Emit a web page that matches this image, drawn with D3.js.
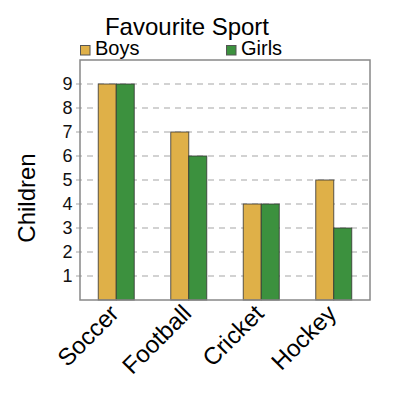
<!DOCTYPE html>
<html><head><meta charset="utf-8">
<script src="https://cdn.jsdelivr.net/npm/d3@7"></script>
<style>body{margin:0;background:#fff}text{font-family:"Liberation Sans",Arial,sans-serif}</style>
</head><body><svg id="c" width="400" height="400"></svg>
<script>
const categories = ["Soccer","Football","Cricket","Hockey"];
const seriesNames = ["Boys","Girls"];
const boys = [9,7,4,5];
const girls = [9,6,4,3];
const yTicks = [1,2,3,4,5,6,7,8,9];
const colors = ["#dfb048","#3c913e"];

const svg = d3.select("#c");
const L=80,T=60,R=370,B=300;
const x = d3.scaleBand().domain(categories).range([L,R]);
const y = d3.scaleLinear().domain([0,10]).range([B,T]);
const xs = d3.scaleBand().domain(seriesNames).range([-18,18]);

svg.append("rect").attr("x",L).attr("y",T).attr("width",R-L).attr("height",B-T).attr("fill","#fff");
// grid
svg.selectAll(".g").data(yTicks).join("line")
  .attr("x1",L-4).attr("x2",R).attr("y1",d=>y(d)).attr("y2",d=>y(d))
  .attr("stroke","#c4c4c4").attr("stroke-width",1.5).attr("stroke-dasharray","6,5");
svg.selectAll(".yl").data(yTicks).join("text")
  .attr("x",72.5).attr("y",d=>y(d)).attr("dy","0.36em").attr("text-anchor","end")
  .attr("font-size",18).attr("fill","#111").text(d=>d);

const data = [boys,girls];
data.forEach((vals,si)=>{
  svg.selectAll(".b"+si).data(vals).join("rect")
    .attr("x",(d,i)=>x(categories[i])+x.bandwidth()/2+xs(seriesNames[si]))
    .attr("width",xs.bandwidth())
    .attr("y",d=>y(d)).attr("height",d=>y(0)-y(d))
    .attr("fill",colors[si]).attr("stroke","#333").attr("stroke-opacity",0.8).attr("stroke-width",1);
});

svg.append("rect").attr("x",L).attr("y",T).attr("width",R-L).attr("height",B-T)
  .attr("fill","none").attr("stroke","#888").attr("stroke-width",1.5);

// x labels
svg.selectAll(".xl").data(categories).join("text")
  .attr("transform",d=>`translate(${x(d)+x.bandwidth()/2+4},315) rotate(-45)`)
  .attr("text-anchor","end").attr("font-size",24).attr("fill","#000").text(d=>d);

// y label
svg.append("text").attr("transform","translate(35,198) rotate(-90)")
  .attr("text-anchor","middle").attr("font-size",24).text("Children");

// title
svg.append("text").attr("x",187).attr("y",35).attr("text-anchor","middle").attr("font-size",24).text("Favourite Sport");

// legend
const lx=[80,226];
seriesNames.forEach((n,i)=>{
  svg.append("rect").attr("x",lx[i]+0.5).attr("y",45.5).attr("width",9.5).attr("height",9.5)
    .attr("fill",colors[i]).attr("stroke","#555").attr("stroke-width",1);
  svg.append("text").attr("x",lx[i]+15).attr("y",55).attr("font-size",20).text(n);
});
</script></body></html>
